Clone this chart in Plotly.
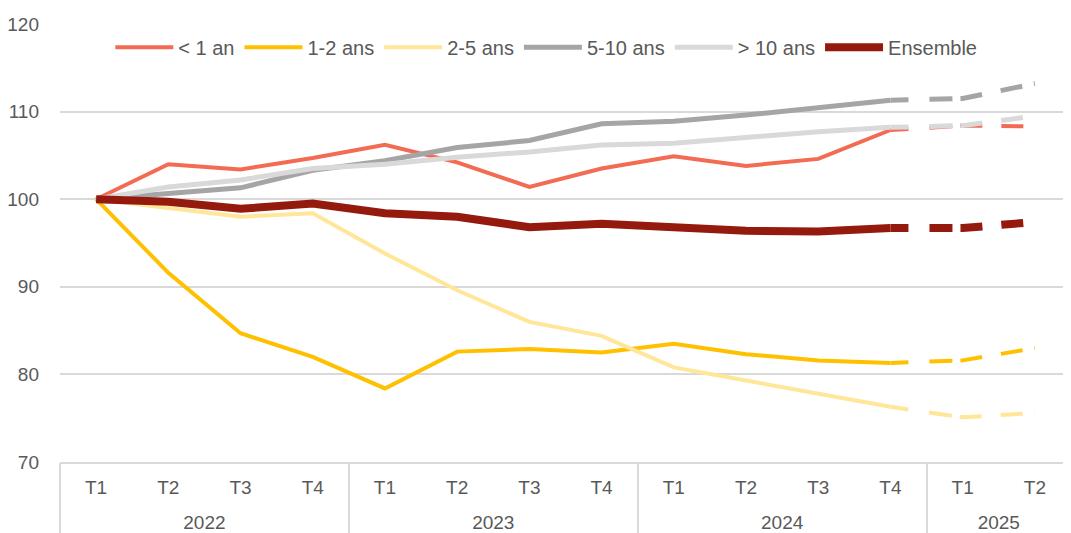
import plotly.graph_objects as go

years = ["2022"] * 4 + ["2023"] * 4 + ["2024"] * 4 + ["2025"] * 2
quarters = ["T1", "T2", "T3", "T4"] * 3 + ["T1", "T2"]

series_names = ["< 1 an", "1-2 ans", "2-5 ans", "5-10 ans", "> 10 ans", "Ensemble"]
lt1 = [100, 104.0, 103.4, 104.7, 106.2, 104.2, 101.4, 103.5, 104.9, 103.8, 104.6, 107.9, 108.4, 108.3]
y1_2 = [100, 91.6, 84.7, 82.0, 78.4, 82.6, 82.9, 82.5, 83.5, 82.3, 81.6, 81.3, 81.6, 83.0]
y2_5 = [100, 99.0, 98.0, 98.4, 93.8, 89.6, 86.0, 84.4, 80.8, 79.3, 77.8, 76.3, 75.1, 75.6]
y5_10 = [100, 100.7, 101.3, 103.3, 104.4, 105.9, 106.7, 108.6, 108.9, 109.6, 110.5, 111.3, 111.5, 113.2]
gt10 = [100, 101.4, 102.2, 103.5, 104.0, 104.8, 105.4, 106.2, 106.4, 107.1, 107.7, 108.2, 108.4, 109.5]
ensemble = [100, 99.7, 98.9, 99.5, 98.4, 98.0, 96.8, 97.2, 96.8, 96.4, 96.3, 96.7, 96.7, 97.4]

values = [lt1, y1_2, y2_5, y5_10, gt10, ensemble]
colors = ["#F26B52", "#FFC000", "#FFE699", "#A5A5A5", "#D9D9D9", "#941A0E"]
widths = [4, 4, 4, 5, 5, 8]

n_solid = 12  # last observed point: 2024 T4

# category positions
idx = list(range(len(quarters)))
year_list = []
for y in years:
    if y not in year_list:
        year_list.append(y)
year_centers = [sum(i for i, y in enumerate(years) if y == yr) / years.count(yr) for yr in year_list]
boundaries = [-0.5] + [i + 0.5 for i in range(len(years) - 1) if years[i] != years[i + 1]] + [len(years) - 0.5]

dash_pattern = "18px,21px,23px,8px,22px,19px,22px,12px"

fig = go.Figure()
# solid (observed) parts on x, dashed (latest) parts on x2 (same range, year labels)
for name, vals, col, w in zip(series_names, values, colors, widths):
    fig.add_trace(go.Scatter(
        x=idx[:n_solid], y=vals[:n_solid], xaxis="x", yaxis="y",
        mode="lines", name=name, legendgroup=name,
        line=dict(color=col, width=w),
    ))
for name, vals, col, w in zip(series_names, values, colors, widths):
    fig.add_trace(go.Scatter(
        x=idx[n_solid - 1:], y=vals[n_solid - 1:], xaxis="x2", yaxis="y",
        mode="lines", name=name, legendgroup=name, showlegend=False,
        line=dict(color=col, width=w, dash=dash_pattern),
    ))

font_col = "#595959"
xrange = [-0.5, len(quarters) - 0.5]
fig.update_layout(
    width=1063, height=525,
    margin=dict(l=52, r=0, t=16, b=71),
    paper_bgcolor="white", plot_bgcolor="white",
    font=dict(family="Liberation Sans, Arial, sans-serif", size=19, color=font_col),
    showlegend=True,
    legend=dict(orientation="h", x=0.481, xanchor="center", y=0.947, yanchor="middle",
                bgcolor="rgba(0,0,0,0)", font=dict(size=20, color=font_col),
                itemwidth=58, tracegroupgap=0),
    xaxis=dict(
        range=xrange, tickmode="array", tickvals=idx, ticktext=quarters,
        showgrid=False, zeroline=False, showline=True, linecolor="#D9D9D9", linewidth=2,
        ticks="", tickfont=dict(size=19, color=font_col), ticklabelstandoff=7,
        automargin=False,
    ),
    xaxis2=dict(
        overlaying="x", anchor="y", side="bottom", range=xrange,
        tickmode="array", tickvals=year_centers, ticktext=year_list,
        showgrid=False, zeroline=False, showline=False, ticks="",
        tickfont=dict(size=19, color=font_col), ticklabelstandoff=47,
        automargin=False,
        minor=dict(tickmode="array", tickvals=boundaries, ticks="outside", ticklen=75,
                   tickcolor="#D9D9D9", tickwidth=2, showgrid=False),
    ),
    yaxis=dict(
        range=[70, 120], dtick=10, showgrid=True, gridcolor="#D9D9D9", gridwidth=2,
        zeroline=False, showline=False, ticks="", automargin=False,
        tickfont=dict(size=19, color=font_col), ticklabelstandoff=20,
    ),
)

fig.write_html("out.html")
